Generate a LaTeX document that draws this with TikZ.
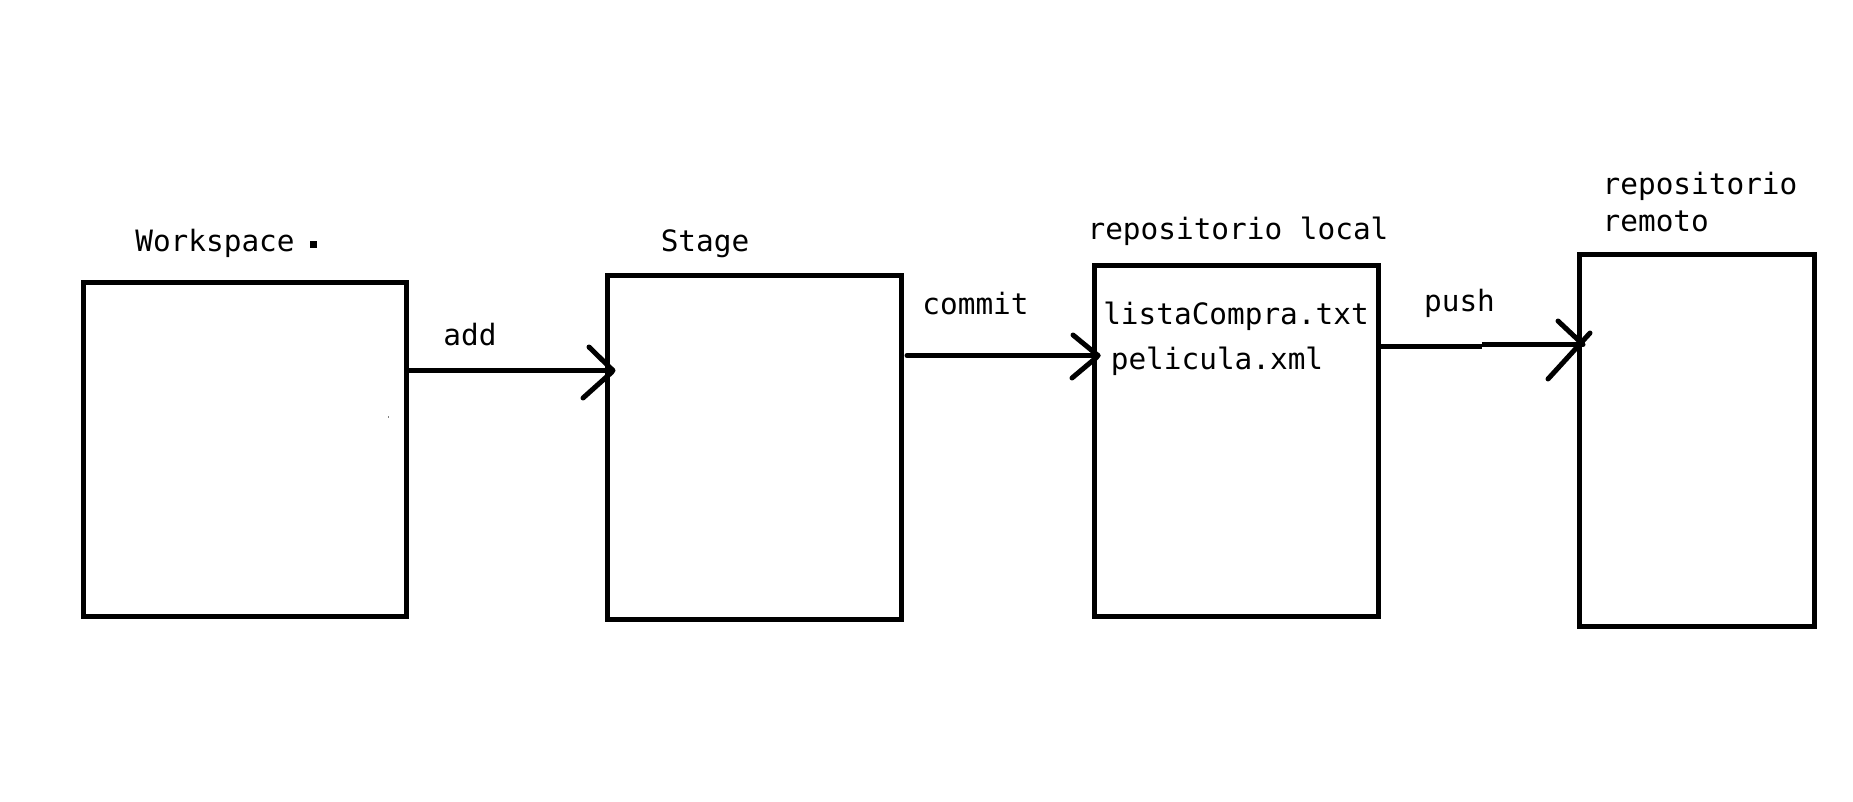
\documentclass[tikz,border=0pt]{standalone}
\usepackage{fontspec}
\newfontfamily\mono{DejaVu Sans Mono}
\begin{document}
\begin{tikzpicture}[x=1pt,y=-1pt,
  box/.style={draw,line width=5pt,rectangle,inner sep=0pt,outer sep=0pt,line join=miter},
  lbl/.style={inner sep=0pt,outer sep=0pt,anchor=base,font=\mono\fontsize{29.4}{37}\selectfont},
  conn/.style={line width=5pt,line cap=round,line join=round}]
\useasboundingbox (0,0) rectangle (1853,802);
% boxes
\node[box,minimum width=323pt,minimum height=334pt] (w) at (245,449.5) {};
\node[box,minimum width=294pt,minimum height=343.5pt] (s) at (754.5,447.25) {};
\node[box,minimum width=284.5pt,minimum height=351pt] (l) at (1236.25,441) {};
\node[box,minimum width=235.5pt,minimum height=371.5pt] (r) at (1696.75,440.25) {};
% labels
\node[lbl] (tw) at (215,252) {Workspace};
\fill (310,241) rectangle (317,248);
\fill[gray] (387.5,416) rectangle (389,418);
\node[lbl] (ts) at (705,252) {Stage};
\node[lbl] (tl) at (1238,240) {repositorio local};
\node[lbl,align=left] (tr) at (1700,232) {repositorio\\remoto};
\node[lbl] (ta) at (470,345) {add};
\node[lbl] (tc) at (975.5,315) {commit};
\node[lbl] (tp) at (1459.5,312) {push};
\node[lbl] (f1) at (1236,325) {listaCompra.txt};
\node[lbl] (f2) at (1217,370) {pelicula.xml};
% connectors
\coordinate (e1) at (613,370.5);
\coordinate (e2) at (1098,355.5);
\coordinate (e3) at (1583,344.5);
\draw[conn,line cap=butt] ([yshift=79pt]w.east) -- (e1);
\draw[conn] (e1) -- (589,347) (e1) ++(-1,1.5) -- (583,398);
\draw[conn] ([yshift=91.75pt]s.east) ++(5.5,0) -- (e2);
\draw[conn] (e2) -- (1073,335) (e2) ++(-1,1.5) -- (1072,378);
\draw[conn,line cap=butt] ([yshift=94.5pt]l.east) -- (1482,346.5) (1482,344.5) -- (e3);
\draw[conn] (e3) -- (1558,321) (1548,379) -- (1590,333);
\end{tikzpicture}
\end{document}
